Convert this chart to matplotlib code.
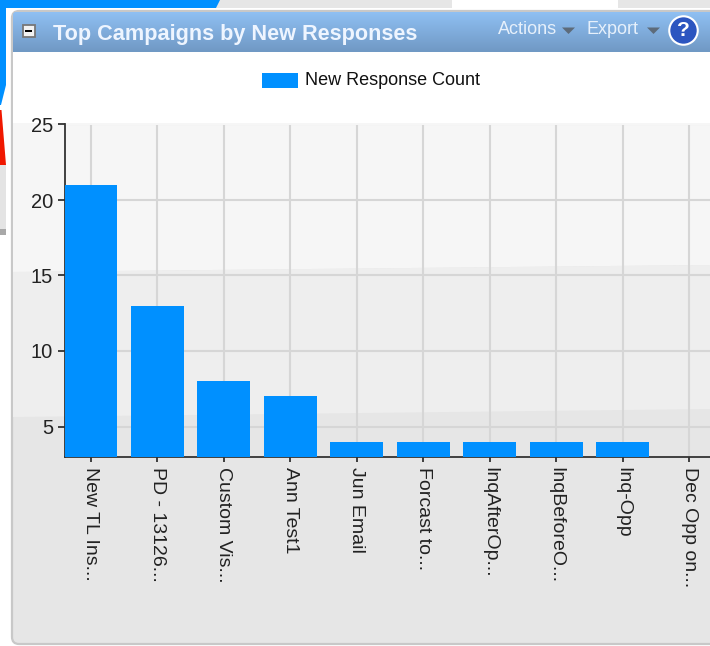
from matplotlib import pyplot as plt
from matplotlib.patches import FancyBboxPatch, Polygon, Rectangle
import numpy as np

categories = ["New TL Ins...", "PD - 13126...", "Custom Vis...", "Ann Test1", "Jun Email",
              "Forcast to...", "InqAfterOp...", "InqBeforeO...", "Inq-Opp", "Dec Opp on..."]
response_counts = [21, 13, 8, 7, 4, 4, 4, 4, 4, 3]
y_ticks = [5, 10, 15, 20, 25]

W, H = 710, 646
BAR_BLUE = "#0090ff"

plt.rcParams["font.family"] = ["Liberation Sans", "DejaVu Sans"]

fig = plt.figure(figsize=(W / 100, H / 100), dpi=100, facecolor="white")


def pixel_axes(left, top, right, bottom, **kwargs):
    """Adds axes placed by pixel edges, measured from the top left of the figure"""
    return fig.add_axes([left / W, 1 - bottom / H, (right - left) / W, (bottom - top) / H], **kwargs)


# Page behind the panel, drawn in pixel coordinates
page = pixel_axes(0, 0, W, H)
page.axis("off")
page.add_patch(Rectangle((0, 0), W, 8, color="#e6e6e6", lw=0))
page.add_patch(Polygon([(0, 0), (220, 0), (216, 8), (6, 8), (6, 85), (1, 105), (0, 105)], color=BAR_BLUE, lw=0))
page.add_patch(Polygon([(0, 110), (1.5, 110), (6, 165), (0, 165)], color="#f01800", lw=0))
page.add_patch(Rectangle((0, 165), 6, 65, color="#e4e4e4", lw=0))
page.add_patch(Rectangle((0, 229), 6, 6, color="#a8a8a8", lw=0))
page.add_patch(Rectangle((452, 0), 166, 8, color="white", lw=0))

# Panel body with rounded corners
body = FancyBboxPatch((12, 11), W + 30, 633, boxstyle="round,pad=0,rounding_size=7",
                      fc="#e6e6e6", ec="#c8c8c8", lw=1.6, zorder=1)
page.add_patch(body)

# Chart background bands, their edges lean slightly
page.add_patch(Rectangle((13, 52), W, 72, color="white", lw=0, zorder=1.5))
page.add_patch(Polygon([(13, 123), (W, 123), (W, 265), (13, 272)], color="#f6f6f6", lw=0, zorder=1.5))
page.add_patch(Polygon([(13, 272), (W, 265), (W, 409), (13, 417)], color="#eeeeee", lw=0, zorder=1.5))

# Title bar with vertical gradient, clipped to the panel's rounded corners
bar_top = np.array([0.56, 0.75, 0.95])
bar_bottom = np.array([0.44, 0.60, 0.77])
title_gradient = bar_top + np.linspace(0, 1, 40)[:, None, None] * (bar_bottom - bar_top)
title_image = page.imshow(title_gradient, extent=(13, W, 52, 12), aspect="auto", interpolation="bilinear", zorder=2)
title_image.set_clip_path(body)
page.set_xlim(0, W)
page.set_ylim(H, 0)

# The chart itself
ax = pixel_axes(65, 124.5, W, 456.7, facecolor="none")
x_pos = np.arange(len(categories))
ax.bar(x_pos, response_counts, width=0.8, color=BAR_BLUE, zorder=3, label="New Response Count")
ax.set_xlim(-0.39, 9.316)
ax.set_ylim(3, 25)
ax.set_xticks(x_pos)
ax.set_xticklabels(categories, rotation=-90, ha="center", va="top", fontsize=14, color="#111111")
ax.set_yticks(y_ticks)
ax.tick_params(axis="y", labelsize=14.5, length=5, width=1.2, pad=3.6, colors="#222222")
ax.tick_params(axis="x", length=3.6, width=1.2, pad=3.5, colors="#222222")
ax.grid(True, color="#d6d6d6", lw=1.5, zorder=1)
ax.set_axisbelow(True)
for side in ["top", "right"]:
    ax.spines[side].set_visible(False)
for side in ["left", "bottom"]:
    ax.spines[side].set_linewidth(1.3)
    ax.spines[side].set_color("#333333")

# Legend laid out by hand so it sits in the white strip over the plot
page.add_patch(Rectangle((262, 73), 36, 15, color=BAR_BLUE, lw=0, zorder=3))
page.text(305, 80.5, "New Response Count", fontsize=13, color="#111111", va="center", ha="left", zorder=3)

# Title bar contents
overlay = pixel_axes(0, 0, W, H, facecolor="none")
overlay.set_xlim(0, W)
overlay.set_ylim(H, 0)
overlay.axis("off")
overlay.add_patch(Rectangle((22.5, 25), 12, 12, fc="#f2f2f2", ec="#777777", lw=1.3))
overlay.add_patch(Rectangle((25, 30), 7, 2, color="black", lw=0))
overlay.text(53, 34.5, "Top Campaigns by New Responses", fontsize=15.6, weight="bold", color="#eef5ff", va="center")
overlay.text(498, 30, "Actions", fontsize=13, color="#e6f0fb", va="center")
overlay.add_patch(Polygon([(562, 27.5), (575, 27.5), (568.5, 34)], color="#5d6b7a", lw=0))
overlay.text(586, 30, "Export", fontsize=13, color="#e6f0fb", va="center")
overlay.add_patch(Polygon([(647, 27.5), (660, 27.5), (653.5, 34)], color="#5d6b7a", lw=0))
overlay.scatter([683], [30], s=420, c="#2b55c0", edgecolors="white", linewidths=1.5)
overlay.text(683, 30, "?", fontsize=15, weight="bold", color="white", va="center", ha="center")

plt.savefig("out.png", dpi=100)
plt.close()
